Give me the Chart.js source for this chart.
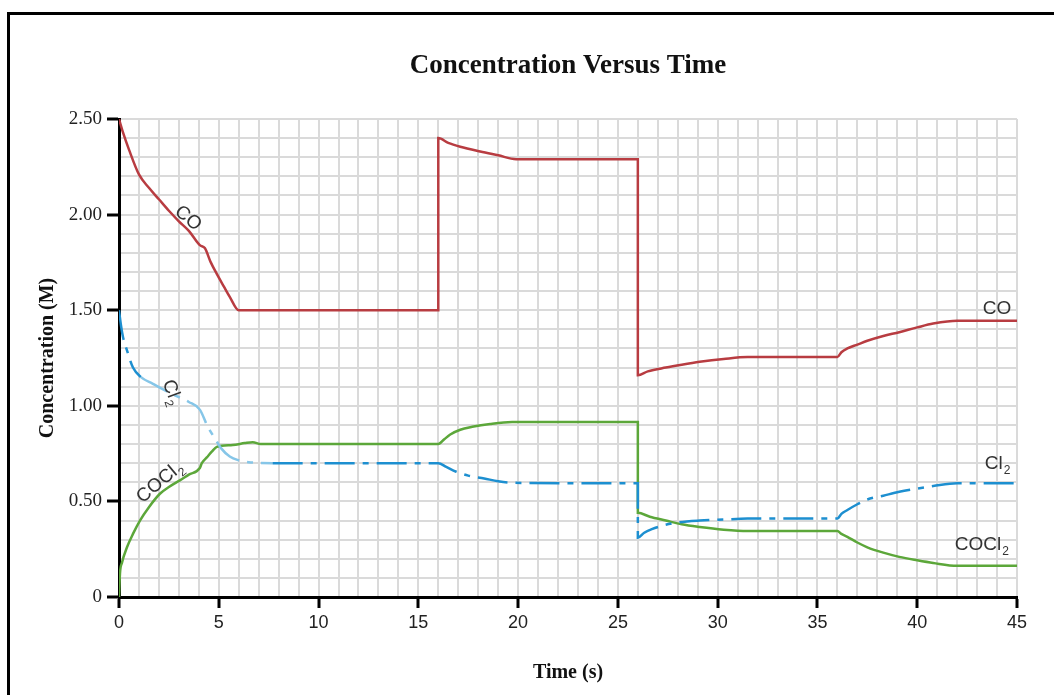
<!DOCTYPE html>
<html lang="en">
<head>
    <meta charset="UTF-8">
    <title>Concentration Versus Time</title>
    <script src="https://cdn.jsdelivr.net/npm/chart.js"></script>
    <style>
        body { margin: 0; background: #fff; }
        #wrap { width: 1054px; height: 695px; }
    </style>
</head>
<body>
    <div id="wrap"><canvas id="myChart"></canvas></div>
    <script>
        // values
        const coTime = [0, 0.2, 0.5, 1, 1.5, 2, 2.5, 3, 3.5, 4.05, 4.3, 4.6, 4.9, 5.25, 5.55, 6, 16, 16, 16.5, 17.1, 18.1, 19, 19.9, 26, 26, 26.5, 27.4, 28.2, 29.1, 30.3, 31.5, 36, 36.2, 36.5, 37, 37.5, 38.3, 39.1, 40, 40.8, 42, 45];
        const coConc = [2.50, 2.43, 2.34, 2.21, 2.14, 2.08, 2.02, 1.965, 1.915, 1.84, 1.825, 1.75, 1.69, 1.625, 1.57, 1.50, 1.50, 2.40, 2.375, 2.355, 2.33, 2.31, 2.29, 2.29, 1.16, 1.18, 1.20, 1.215, 1.23, 1.245, 1.255, 1.255, 1.28, 1.30, 1.32, 1.34, 1.365, 1.385, 1.41, 1.43, 1.445, 1.445];

        const cl2Time = [0, 0.1, 0.2, 0.4, 0.7, 1.1, 1.7, 2.4, 3.0, 3.5, 4.05, 4.45, 4.8, 5.1, 5.55, 6.0, 6.5, 7.7, 16, 16.4, 16.9, 17.5, 18.3, 19, 19.8, 26, 26, 26.3, 26.7, 27.3, 28, 29.1, 30.3, 31.5, 36, 36.2, 36.5, 37, 37.5, 38.3, 39.1, 40, 40.8, 42, 45];
        const cl2Conc = [1.50, 1.42, 1.36, 1.29, 1.20, 1.15, 1.115, 1.075, 1.045, 1.02, 0.98, 0.89, 0.83, 0.78, 0.735, 0.715, 0.705, 0.70, 0.70, 0.68, 0.655, 0.635, 0.62, 0.605, 0.597, 0.595, 0.31, 0.335, 0.355, 0.375, 0.39, 0.40, 0.405, 0.41, 0.41, 0.435, 0.455, 0.485, 0.51, 0.53, 0.55, 0.567, 0.58, 0.595, 0.595];

        const cocl2Time = [0, 0.05, 0.15, 0.4, 0.7, 1.05, 1.5, 2.05, 2.5, 3.05, 3.5, 4.05, 4.15, 4.4, 4.65, 4.9, 5.7, 6.3, 6.7, 7.1, 16, 16.3, 16.6, 17.1, 17.7, 18.6, 19.7, 26, 26, 26.6, 27.4, 28.2, 29.1, 30.3, 31.5, 36, 36.2, 36.5, 37, 37.5, 38.3, 39.1, 40, 40.8, 42, 45];
        const cocl2Conc = [0, 0.125, 0.18, 0.26, 0.33, 0.40, 0.47, 0.54, 0.575, 0.61, 0.64, 0.675, 0.70, 0.73, 0.76, 0.785, 0.795, 0.805, 0.81, 0.80, 0.80, 0.825, 0.85, 0.875, 0.89, 0.905, 0.915, 0.915, 0.44, 0.42, 0.40, 0.38, 0.366, 0.352, 0.345, 0.345, 0.33, 0.315, 0.285, 0.26, 0.232, 0.21, 0.192, 0.178, 0.163, 0.163];

        const xMin = 0, xMax = 45;
        const yMin = 0, yMax = 2.5;

        // curve names written on the plot, placed in data units
        const curveLabels = [
            { text: 'CO', sub: '', x: 3.46, y: 1.98, angle: 40 },
            { text: 'Cl', sub: '2', x: 2.65, y: 1.07, angle: 70 },
            { text: 'COCl', sub: '2', x: 2.05, y: 0.60, angle: -40 },
            { text: 'CO', sub: '', x: 44.0, y: 1.51, angle: 0 },
            { text: 'Cl', sub: '2', x: 44.03, y: 0.695, angle: 0 },
            { text: 'COCl', sub: '2', x: 43.24, y: 0.272, angle: 0 }
        ];

        function toPoints(xs, ys) {
            return xs.map((x, i) => ({ x: x, y: ys[i] }));
        }

        const frameAndLabels = {
            id: 'frameAndLabels',
            beforeDraw(chart) {
                const ctx = chart.ctx;
                ctx.save();
                ctx.fillStyle = '#fff';
                ctx.fillRect(0, 0, chart.width, chart.height);
                ctx.strokeStyle = '#000';
                ctx.lineWidth = 3;
                ctx.beginPath();
                ctx.moveTo(8.5, chart.height);
                ctx.lineTo(8.5, 13.5);
                ctx.lineTo(chart.width, 13.5);
                ctx.stroke();
                ctx.restore();
            },
            afterDatasetsDraw(chart) {
                const ctx = chart.ctx;
                const xs = chart.scales.x, ys = chart.scales.y;
                curveLabels.forEach(lab => {
                    const px = xs.getPixelForValue(lab.x);
                    const py = ys.getPixelForValue(lab.y);
                    ctx.save();
                    ctx.translate(px, py);
                    ctx.rotate(lab.angle * Math.PI / 180);
                    ctx.fillStyle = '#333';
                    ctx.textBaseline = 'middle';
                    ctx.textAlign = 'left';
                    ctx.font = '19px "Liberation Sans", Arial, sans-serif';
                    const w1 = ctx.measureText(lab.text).width;
                    ctx.font = '12px "Liberation Sans", Arial, sans-serif';
                    const w2 = lab.sub ? ctx.measureText(lab.sub).width + 1 : 0;
                    const start = -(w1 + w2) / 2;
                    ctx.font = '19px "Liberation Sans", Arial, sans-serif';
                    ctx.fillText(lab.text, start, 0);
                    if (lab.sub) {
                        ctx.font = '12px "Liberation Sans", Arial, sans-serif';
                        ctx.fillText(lab.sub, start + w1 + 1, 7);
                    }
                    ctx.restore();
                });
            }
        };

        const isMajorX = v => Math.round(v) % 5 === 0;
        const isMajorY = v => Math.round(v * 10) % 5 === 0;

        const ctx = document.getElementById('myChart').getContext('2d');
        const myChart = new Chart(ctx, {
            type: 'line',
            data: {
                datasets: [{
                    label: 'CO',
                    data: toPoints(coTime, coConc),
                    borderColor: '#b83c41',
                    borderWidth: 2.5,
                    pointRadius: 0,
                    cubicInterpolationMode: 'monotone'
                }, {
                    label: 'Cl2',
                    data: toPoints(cl2Time, cl2Conc),
                    borderColor: '#1d8fd0',
                    borderWidth: 2.5,
                    borderDash: [30, 8, 6, 8],
                    pointRadius: 0,
                    cubicInterpolationMode: 'monotone',
                    segment: {
                        borderColor: c => (c.p0.parsed.x >= 1 && c.p1.parsed.x <= 7.7) ? '#86c6e8' : undefined
                    }
                }, {
                    label: 'COCl2',
                    data: toPoints(cocl2Time, cocl2Conc),
                    borderColor: '#5ca73a',
                    borderWidth: 2.5,
                    pointRadius: 0,
                    cubicInterpolationMode: 'monotone'
                }]
            },
            options: {
                responsive: true,
                maintainAspectRatio: false,
                animation: false,
                layout: { padding: { left: 36, right: 37, top: 0, bottom: 0 } },
                plugins: {
                    legend: { display: false },
                    tooltip: { enabled: false },
                    title: {
                        display: true,
                        text: 'Concentration Versus Time',
                        fullSize: false,
                        color: '#111',
                        font: { family: '"Liberation Serif", "Times New Roman", serif', size: 27, weight: 'bold', lineHeight: 1.2 },
                        padding: { top: 50, bottom: 36.6 }
                    }
                },
                scales: {
                    x: {
                        type: 'linear',
                        min: xMin,
                        max: xMax,
                        afterFit: s => { s.height = 98; },
                        border: { display: true, color: '#000', width: 3 },
                        grid: {
                            color: '#dadada',
                            lineWidth: 2,
                            tickLength: 11,
                            tickWidth: 3,
                            tickColor: c => isMajorX(c.tick.value) ? '#000' : 'rgba(0,0,0,0)'
                        },
                        ticks: {
                            stepSize: 1,
                            autoSkip: false,
                            maxRotation: 0,
                            padding: 4,
                            color: '#222',
                            font: { family: '"Liberation Sans Narrow", "Liberation Sans", Arial, sans-serif', size: 18 },
                            callback: v => isMajorX(v) ? String(Math.round(v)) : ''
                        },
                        title: {
                            display: true,
                            text: 'Time (s)',
                            color: '#111',
                            font: { family: '"Liberation Serif", "Times New Roman", serif', size: 20, weight: 'bold', lineHeight: 1.2 },
                            padding: { top: 0, bottom: 10 }
                        }
                    },
                    y: {
                        min: yMin,
                        max: yMax,
                        afterFit: s => { s.width = 83; },
                        border: { display: true, color: '#000', width: 3 },
                        grid: {
                            color: '#dadada',
                            lineWidth: 2,
                            tickLength: 12,
                            tickWidth: 3,
                            tickColor: c => isMajorY(c.tick.value) ? '#000' : 'rgba(0,0,0,0)'
                        },
                        ticks: {
                            stepSize: 0.1,
                            autoSkip: false,
                            padding: 5,
                            color: '#222',
                            font: { family: '"Liberation Serif", "Times New Roman", serif', size: 19 },
                            callback: v => {
                                const n = Math.round(v * 10);
                                if (n % 5 !== 0) return '';
                                return n === 0 ? '0' : (n / 10).toFixed(2);
                            }
                        },
                        title: {
                            display: true,
                            text: 'Concentration (M)',
                            color: '#111',
                            font: { family: '"Liberation Serif", "Times New Roman", serif', size: 20, weight: 'bold', lineHeight: 1.2 },
                            padding: { top: 0, bottom: 0 }
                        }
                    }
                }
            },
            plugins: [frameAndLabels]
        });
    </script>
</body>
</html>
